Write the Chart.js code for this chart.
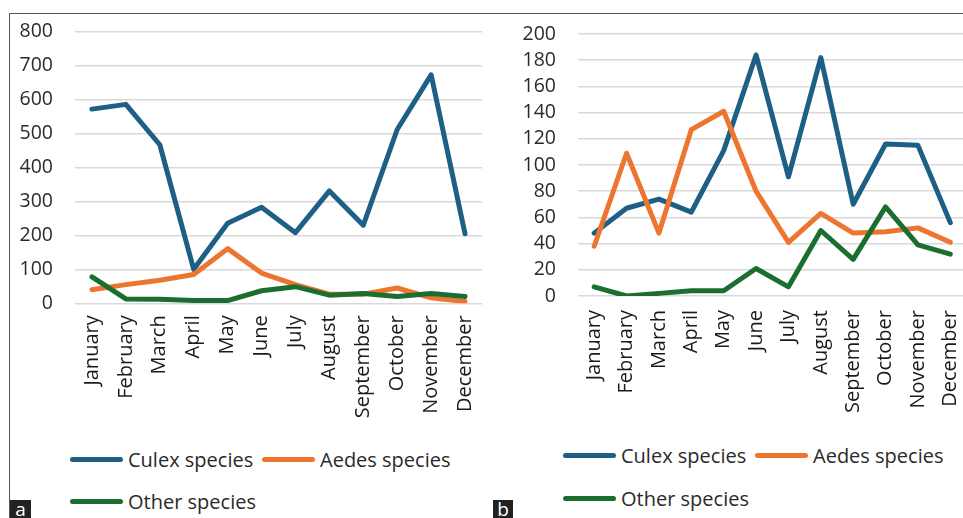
<!DOCTYPE html>
<html>
<head>
<meta charset="utf-8">
<script src="https://cdn.jsdelivr.net/npm/chart.js@4.4.1/dist/chart.umd.min.js"></script>
<style>
  html, body { margin: 0; padding: 0; background: #fff; overflow: hidden; }
  body { width: 963px; height: 518px; position: relative; font-family: "Open Sans", sans-serif; }
  .frame-top { position: absolute; left: 9px; top: 13px; width: 960px; height: 0; border-top: 1.5px solid #555; }
  .frame-left { position: absolute; left: 9px; top: 13px; width: 0; height: 510px; border-left: 1.5px solid #555; }
  .panel { position: absolute; }
  .leg-item { position: absolute; display: flex; align-items: center; height: 24px; font-size: 20px; color: #2a2a2a; white-space: nowrap; }
  .leg-swatch { width: 53px; height: 5px; border-radius: 3px; margin-right: 5px; }
  .badge { position: absolute; background: #222; color: #fff; font-size: 19px; line-height: 18px; text-align: center; font-family: "Open Sans", sans-serif; }
</style>
</head>
<body>
<div class="frame-top"></div>
<div class="frame-left"></div>
<div class="panel" style="left:9px;top:14px;"><canvas id="chartA" width="481" height="420"></canvas></div>
<div class="panel" style="left:490px;top:14px;"><canvas id="chartB" width="480" height="420"></canvas></div>
<div id="legendA"></div>
<div id="legendB"></div>
<div class="badge" style="left:10px;top:500px;width:21px;height:18px;">a</div>
<div class="badge" style="left:493px;top:500px;width:20px;height:18px;">b</div>

<script>
// Months on the horizontal axis
const months = ["January", "February", "March", "April", "May", "June",
                "July", "August", "September", "October", "November", "December"];
const seriesNames = ["Culex species", "Aedes species", "Other species"];
const seriesColors = ["#1e5f86", "#ee7530", "#1c6e30"];

// Panel a: monthly counts
const culexA = [572, 586, 467, 100, 236, 283, 208, 331, 230, 512, 673, 205];
const aedesA = [40, 55, 68, 85, 161, 89, 55, 27, 27, 45, 16, 5];
const otherA = [78, 13, 12, 8, 8, 37, 49, 24, 29, 20, 29, 20];
const ticksA = [0, 100, 200, 300, 400, 500, 600, 700, 800];

// Panel b: monthly counts
const culexB = [48, 67, 74, 64, 111, 184, 91, 182, 70, 116, 115, 56];
const aedesB = [38, 109, 48, 127, 141, 80, 41, 63, 48, 49, 52, 41];
const otherB = [7, 0, 2, 4, 4, 21, 7, 50, 28, 68, 39, 32];
const ticksB = [0, 20, 40, 60, 80, 100, 120, 140, 160, 180, 200];

function makeChart(canvasId, series, yTicks, box) {
  const datasets = series.map((values, i) => ({
    label: seriesNames[i],
    data: values,
    borderColor: seriesColors[i],
    backgroundColor: seriesColors[i],
    borderWidth: 5,
    pointRadius: 0,
    tension: 0,
    fill: false,
    borderCapStyle: "round",
    borderJoinStyle: "round",
    order: series.length - i
  }));
  return new Chart(document.getElementById(canvasId), {
    type: "line",
    data: { labels: months, datasets },
    options: {
      responsive: false,
      animation: false,
      events: [],
      layout: { padding: { top: box.top, right: box.right, left: 0, bottom: 0 } },
      plugins: { legend: { display: false }, tooltip: { enabled: false } },
      scales: {
        x: {
          offset: true,
          grid: { display: false, drawTicks: false },
          border: { display: false },
          ticks: {
            autoSkip: false, minRotation: 90, maxRotation: 90, padding: box.xPad,
            color: "#1a1a1a", font: { family: "Open Sans", size: 20 }
          },
          afterFit(scale) {
            scale.height = box.xHeight;
            scale.paddingLeft = 0; scale.paddingRight = 0;
          }
        },
        y: {
          min: yTicks[0],
          max: yTicks[yTicks.length - 1],
          afterBuildTicks(scale) { scale.ticks = yTicks.map(v => ({ value: v })); },
          grid: { color: "#d9d9d9", lineWidth: 1.5, drawTicks: false },
          border: { display: false },
          ticks: { autoSkip: false, padding: 22, color: "#2a2a2a", font: { family: "Open Sans", size: 19.5 } },
          afterFit(scale) {
            scale.width = box.yWidth;
            scale.paddingTop = 0; scale.paddingBottom = 0;
          }
        }
      }
    }
  });
}

makeChart("chartA", [culexA, aedesA, otherA], ticksA,
  { top: 17.7, right: 8, yWidth: 66, xHeight: 130.7, xPad: 12 });
makeChart("chartB", [culexB, aedesB, otherB], ticksB,
  { top: 20, right: 3.5, yWidth: 88, xHeight: 138, xPad: 14 });

// Legends: two entries on the first row, the third wraps to a second row
function makeLegend(containerId, spots) {
  const el = document.getElementById(containerId);
  spots.forEach((s, i) => {
    const item = document.createElement("div");
    item.className = "leg-item";
    item.style.left = s.x + "px";
    item.style.top = (s.y - 12) + "px";
    const sw = document.createElement("div");
    sw.className = "leg-swatch";
    sw.style.background = seriesColors[i];
    const tx = document.createElement("span");
    tx.textContent = seriesNames[i];
    item.appendChild(sw);
    item.appendChild(tx);
    el.appendChild(item);
  });
}
makeLegend("legendA", [{ x: 70, y: 459 }, { x: 262, y: 459 }, { x: 70, y: 501 }]);
makeLegend("legendB", [{ x: 563, y: 455 }, { x: 755, y: 455 }, { x: 563, y: 498 }]);
</script>
</body>
</html>
